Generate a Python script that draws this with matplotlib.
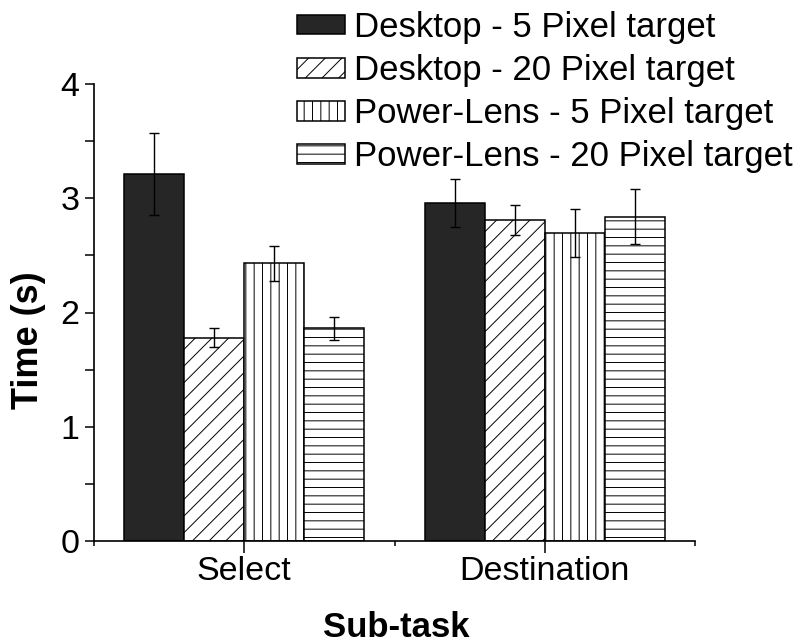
import numpy as np
import matplotlib.pyplot as plt

plt.rcParams['font.family'] = ['Liberation Sans', 'DejaVu Sans']
plt.rcParams['hatch.linewidth'] = 0.7

# data
subtasks = ['Select', 'Destination']
labels = ['Desktop - 5 Pixel target', 'Desktop - 20 Pixel target',
          'Power-Lens - 5 Pixel target', 'Power-Lens - 20 Pixel target']
desktop_5 = [3.21, 2.96]
desktop_5_err = [0.36, 0.21]
desktop_20 = [1.78, 2.81]
desktop_20_err = [0.08, 0.13]
lens_5 = [2.43, 2.70]
lens_5_err = [0.15, 0.21]
lens_20 = [1.86, 2.84]
lens_20_err = [0.10, 0.24]

values = [desktop_5, desktop_20, lens_5, lens_20]
errors = [desktop_5_err, desktop_20_err, lens_5_err, lens_20_err]
colors = ['#262626', 'white', 'white', 'white']
hatches = [None, '//', '||', '--']
offsets = [-0.3, -0.1, 0.1, 0.3]
width = 0.2

fig = plt.figure(figsize=(8.09, 6.44), dpi=100)
ax = fig.add_axes([94 / 809, 103 / 644, 601 / 809, 457 / 644])

x = np.arange(1, len(subtasks) + 1)
for i in range(4):
    ax.bar(x + offsets[i], values[i], width, color=colors[i], hatch=hatches[i],
           edgecolor='black', linewidth=1.1, label=labels[i],
           yerr=errors[i], capsize=3.8,
           error_kw=dict(ecolor='black', elinewidth=1, capthick=1))

ax.set_xlim(0.5, 2.5)
ax.set_ylim(0, 4)
ax.set_xticks(x)
ax.set_xticklabels(subtasks)
ax.set_xticks([0.5, 1.5, 2.5], minor=True)
ax.set_yticks([0, 1, 2, 3, 4])
ax.set_yticks(np.arange(0.5, 4, 1), minor=True)

for side in ['top', 'right']:
    ax.spines[side].set_visible(False)
for side in ['left', 'bottom']:
    ax.spines[side].set_linewidth(1.2)

ax.tick_params(axis='both', which='major', labelsize=24.5, width=1.1, direction='out')
ax.tick_params(axis='x', which='major', length=8.6, pad=2)
ax.tick_params(axis='x', which='minor', length=3.6, width=1.1)
ax.tick_params(axis='y', which='major', length=6.5, pad=4)
ax.tick_params(axis='y', which='minor', length=6.5, width=1.1)

fig.text(29 / 809, 1 - 340 / 644, 'Time (s)', rotation=90, ha='center', va='center',
         fontsize=26, fontweight='bold')
fig.text(396 / 809, 7 / 644, 'Sub-task', ha='center', va='baseline',
         fontsize=25, fontweight='bold')

fig.legend(loc='upper left', bbox_to_anchor=(297 / 809, 1 - 11 / 644),
           frameon=False, borderpad=0, borderaxespad=0, fontsize=25,
           handlelength=1.38, handleheight=0.49, handletextpad=0.26,
           labelspacing=0.29)

fig.savefig('out.png', dpi=100)
